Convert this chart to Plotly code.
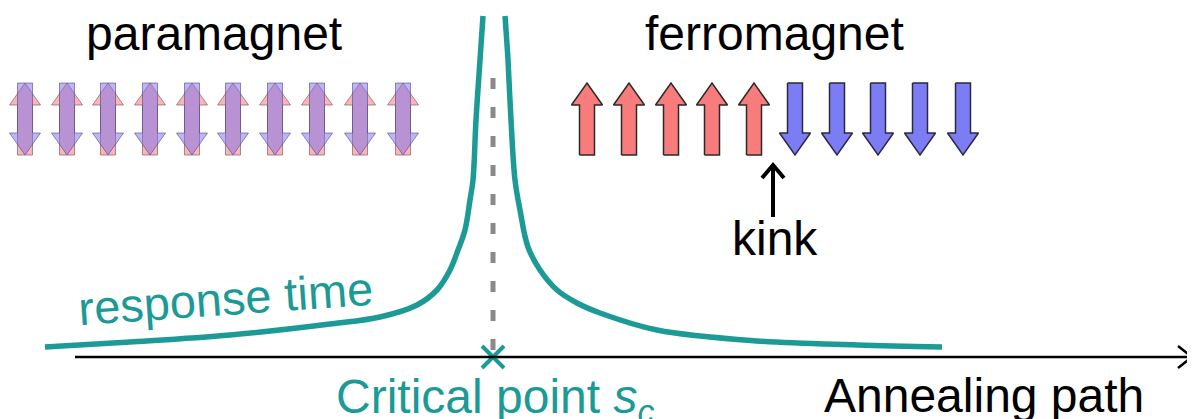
import plotly.graph_objects as go

# ---- data (pixel-like coordinates; y grows downward) ----
para_x = [25, 67, 108, 150, 192, 233, 275, 317, 360, 403]
ferro_up_x = [587, 629, 671, 712, 754]
ferro_down_x = [795, 837, 878, 920, 963]
arrow_top, arrow_bottom = 83, 155

left_x = [45, 130, 230, 330, 380, 417, 437, 450, 458, 465, 470, 473, 476, 480, 483]
left_y = [347, 342, 335, 324, 317, 305, 290, 270, 250, 230, 200, 180, 120, 60, 16]
right_x = [505, 508, 511, 515, 520, 528, 540, 557, 577, 600, 657, 757, 857, 942]
right_y = [16, 60, 120, 180, 210, 247, 270, 290, 303, 313, 330, 341, 345, 347]

critical_x = 493
axis_y = 357
axis_start, axis_end = 75, 1192

TEAL = "#1c9a96"
FONT = "Liberation Sans, Arial, sans-serif"
PAGE_OFFSET = 8  # default body margin of the page

fig = go.Figure()


def arrow_poly(xc, top, bottom, up=True, shaft=15, head=31, head_h=22):
    if up:
        hb = top + head_h
        xs = [xc - shaft / 2, xc - shaft / 2, xc - head / 2, xc, xc + head / 2, xc + shaft / 2, xc + shaft / 2, xc - shaft / 2]
        ys = [bottom, hb, hb, top, hb, hb, bottom, bottom]
    else:
        hb = bottom - head_h
        xs = [xc - shaft / 2, xc - shaft / 2, xc - head / 2, xc, xc + head / 2, xc + shaft / 2, xc + shaft / 2, xc - shaft / 2]
        ys = [top, hb, hb, bottom, hb, hb, top, top]
    return xs, ys


# paramagnet: overlapping translucent up/down arrows
for xc in para_x:
    xs, ys = arrow_poly(xc, arrow_top, arrow_bottom, up=True)
    fig.add_trace(go.Scatter(x=xs, y=ys, mode="lines", fill="toself",
                             fillcolor="rgba(245,110,110,0.5)",
                             line=dict(color="rgba(120,70,90,0.6)", width=1),
                             hoverinfo="skip", showlegend=False))
    xs, ys = arrow_poly(xc, arrow_top, arrow_bottom, up=False)
    fig.add_trace(go.Scatter(x=xs, y=ys, mode="lines", fill="toself",
                             fillcolor="rgba(120,110,240,0.5)",
                             line=dict(color="rgba(80,70,130,0.6)", width=1),
                             hoverinfo="skip", showlegend=False))

# ferromagnet
for xc in ferro_up_x:
    xs, ys = arrow_poly(xc, arrow_top, arrow_bottom, up=True)
    fig.add_trace(go.Scatter(x=xs, y=ys, mode="lines", fill="toself",
                             fillcolor="#f87c7c", line=dict(color="#2a2a2a", width=1.5),
                             hoverinfo="skip", showlegend=False))
for xc in ferro_down_x:
    xs, ys = arrow_poly(xc, arrow_top, arrow_bottom, up=False)
    fig.add_trace(go.Scatter(x=xs, y=ys, mode="lines", fill="toself",
                             fillcolor="#7c7cf5", line=dict(color="#2a2a40", width=1.5),
                             hoverinfo="skip", showlegend=False))

# response time curve
fig.add_trace(go.Scatter(x=left_x, y=left_y, mode="lines",
                         line=dict(color=TEAL, width=5.5, shape="spline", smoothing=1.0),
                         hoverinfo="skip", showlegend=False))
fig.add_trace(go.Scatter(x=right_x, y=right_y, mode="lines",
                         line=dict(color=TEAL, width=5.5, shape="spline", smoothing=1.0),
                         hoverinfo="skip", showlegend=False))

shapes = [
    # dashed critical line
    dict(type="line", xref="x", yref="y", x0=critical_x, x1=critical_x, y0=78, y1=352,
         line=dict(color="#8a8a8a", width=5, dash="11px,18px")),
    # annealing axis
    dict(type="line", xref="x", yref="y", x0=axis_start, x1=axis_end, y0=axis_y, y1=axis_y,
         line=dict(color="black", width=2.5)),
    dict(type="path", xref="x", yref="y",
         path=f"M {axis_end-14} {axis_y-11} L {axis_end} {axis_y} L {axis_end-14} {axis_y+11}",
         line=dict(color="black", width=2.5)),
    # kink arrow
    dict(type="line", xref="x", yref="y", x0=773, x1=773, y0=217, y1=166,
         line=dict(color="black", width=4)),
    dict(type="path", xref="x", yref="y",
         path="M 762 178 L 773 165 L 784 178",
         line=dict(color="black", width=4)),
]

# critical point marker
fig.add_trace(go.Scatter(x=[critical_x], y=[axis_y], mode="markers",
                         marker=dict(symbol="x-thin", size=22, line=dict(color=TEAL, width=4)),
                         hoverinfo="skip", showlegend=False))

annotations = [
    dict(text="paramagnet", x=214, y=33, font=dict(size=48, color="black")),
    dict(text="ferromagnet", x=774, y=33, font=dict(size=48, color="black")),
    dict(text="kink", x=775, y=238, font=dict(size=48, color="black")),
    dict(text="response time", x=225, y=298, textangle=-4, font=dict(size=47, color=TEAL)),
    dict(text="Critical point <i>s</i><sub><i>c</i></sub>", x=495, y=400, font=dict(size=48, color=TEAL)),
    dict(text="Annealing path", x=984, y=395, font=dict(size=48, color="black")),
]
for a in annotations:
    a.update(xref="x", yref="y", showarrow=False, xanchor="center", yanchor="middle")
    a["font"]["family"] = FONT

fig.update_layout(
    width=1195 - PAGE_OFFSET, height=419 - PAGE_OFFSET,
    margin=dict(l=0, r=0, t=0, b=0),
    paper_bgcolor="white", plot_bgcolor="white",
    xaxis=dict(range=[PAGE_OFFSET, 1195], visible=False, fixedrange=True),
    yaxis=dict(range=[419, PAGE_OFFSET], visible=False, fixedrange=True),
    shapes=shapes, annotations=annotations,
    font=dict(family=FONT),
)

fig.write_html("out.html")
